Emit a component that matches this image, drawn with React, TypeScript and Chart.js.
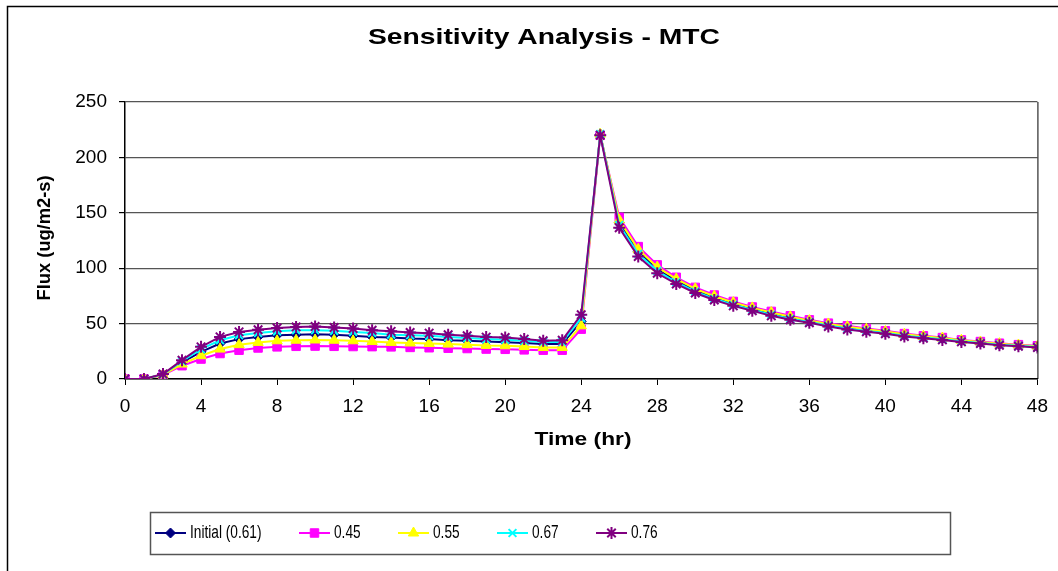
import React, { useEffect, useRef } from 'react';
import { Chart, registerables } from 'chart.js';
import { drawPoint } from 'chart.js/helpers';

Chart.register(...registerables);

const hours = [
  0, 1, 2, 3, 4, 5, 6, 7, 8, 9, 10, 11, 12, 13, 14, 15, 16, 17, 18, 19, 20, 21, 22, 23, 24,
  25, 26, 27, 28, 29, 30, 31, 32, 33, 34, 35, 36, 37, 38, 39, 40, 41, 42, 43, 44, 45, 46, 47, 48,
];

const initial061 = [
  0, 0, 4, 15, 24.5, 32, 36, 38, 39.5, 40, 40.3, 40, 39, 38, 37.4, 36.5, 36, 35, 34.5, 33.8,
  33.2, 32.5, 31.5, 31.5, 52, 221, 141, 115, 99, 88.8, 80.2, 73.5, 68, 63.3, 59, 55.2, 52, 48.9,
  46.4, 44.1, 42.2, 39.7, 37.9, 36.4, 34.4, 32.9, 31.4, 30.3, 29.2,
];
const mtc045 = [
  0, 0, 3.5, 12, 18, 23, 26, 28, 29, 29.5, 29.7, 29.5, 29.3, 29.2, 29, 28.5, 28.2, 27.8, 27.5, 27,
  26.8, 26.3, 26, 26, 45, 220, 146, 119.5, 103, 91.8, 82.7, 75.8, 70, 65, 61, 57, 53.4, 50.4,
  48, 45.6, 43.5, 41, 39, 37.4, 35.3, 33.8, 32.3, 31, 30,
];
const mtc055 = [
  0, 0, 3.8, 13.5, 21, 27, 31, 33, 34.5, 35, 35.2, 35, 34.5, 33.8, 33, 32.5, 32, 31.5, 31, 30.3,
  30, 29.3, 28.5, 28.5, 48, 221, 143.5, 117, 101, 90.3, 81.4, 74.7, 69, 64.2, 60, 56.1, 52.7, 49.7,
  47.2, 44.9, 42.8, 40.3, 38.5, 36.9, 34.9, 33.4, 31.9, 30.7, 29.6,
];
const mtc067 = [
  0, 0, 4.2, 16, 27, 35, 39.5, 41.5, 43, 44, 44, 43.5, 42.5, 41.5, 40, 39.5, 39, 38, 37, 36,
  35.5, 34.5, 33.5, 33.5, 55, 221, 139, 113, 97.5, 87.3, 78.9, 72.4, 67, 62.5, 58, 54.3, 51.4, 48.2,
  45.6, 43.4, 41.5, 39, 37.4, 35.8, 34, 32.5, 31, 29.9, 28.8,
];
const mtc076 = [
  0, 0, 4.5, 17, 29, 38, 42.5, 44.5, 46, 47, 47.4, 46.5, 45.5, 44, 43, 42, 41.4, 40, 39, 37.8,
  37.4, 36, 34.6, 35, 58, 220, 136.5, 110.5, 95.4, 85.8, 77.6, 71.3, 66, 61.6, 57, 53.4, 50.7, 47.4,
  44.7, 42.6, 40.8, 38.3, 36.8, 35.3, 33.5, 32, 30.5, 29.6, 28.4,
];

const seriesLabels = ['Initial (0.61)', '0.45', '0.55', '0.67', '0.76'];
const seriesValues = [initial061, mtc045, mtc055, mtc067, mtc076];
const seriesColors = ['#000080', '#FF00FF', '#FFFF00', '#00FFFF', '#800080'];
const seriesMarkers = ['rectRot', 'rect', 'triangle', 'crossRot', 'star'];
const seriesRadius = [5, 6, 6, 5.5, 6];

const chartTitle = 'Sensitivity Analysis - MTC';
const xTitle = 'Time (hr)';
const yTitle = 'Flux (ug/m2-s)';
const xMin = 0;
const xMax = 48;
const xStep = 4;
const yMin = 0;
const yMax = 250;
const yStep = 50;

const FONT = '"Liberation Sans", Arial, sans-serif';

function stretchedText(
  ctx: CanvasRenderingContext2D,
  text: string,
  x: number,
  y: number,
  font: string,
  targetWidth: number,
  rotate = 0,
) {
  ctx.save();
  ctx.font = font;
  ctx.textAlign = 'center';
  ctx.textBaseline = 'alphabetic';
  ctx.fillStyle = '#000';
  const w = ctx.measureText(text).width;
  const scale = targetWidth / w;
  ctx.translate(x, y);
  if (rotate) ctx.rotate(rotate);
  ctx.scale(scale, 1);
  ctx.fillText(text, 0, 0);
  ctx.restore();
}

const decorPlugin = {
  id: 'decor',
  beforeDraw(chart: any) {
    const ctx = chart.ctx as CanvasRenderingContext2D;
    ctx.save();
    ctx.fillStyle = '#fff';
    ctx.fillRect(0, 0, chart.width, chart.height);
    ctx.restore();
  },
  afterDraw(chart: any) {
    const ctx = chart.ctx as CanvasRenderingContext2D;
    const area = chart.chartArea;
    ctx.save();
    ctx.strokeStyle = '#000';
    ctx.lineWidth = 1.5;
    ctx.strokeRect(7.5, 6.5, 1300, 900);
    ctx.lineWidth = 1;
    ctx.beginPath();
    ctx.moveTo(area.right + 0.5, area.top);
    ctx.lineTo(area.right + 0.5, area.bottom);
    ctx.stroke();
    ctx.restore();

    stretchedText(ctx, chartTitle, 544, 44, `bold 22px ${FONT}`, 352);
    stretchedText(ctx, xTitle, 583, 445, `bold 19px ${FONT}`, 97);
    stretchedText(ctx, yTitle, 50, 238, `bold 18px ${FONT}`, 125, -Math.PI / 2);

    ctx.save();
    ctx.strokeStyle = '#555';
    ctx.lineWidth = 1.5;
    ctx.strokeRect(150.5, 512.5, 800, 42);
    const starts = [155, 299, 398, 497, 596];
    const cy = 533;
    chart.data.datasets.forEach((ds: any, i: number) => {
      const x0 = starts[i];
      ctx.strokeStyle = ds.borderColor;
      ctx.lineWidth = 2;
      ctx.beginPath();
      ctx.moveTo(x0, cy);
      ctx.lineTo(x0 + 31, cy);
      ctx.stroke();
      ctx.fillStyle = ds.pointBackgroundColor;
      ctx.strokeStyle = ds.pointBorderColor;
      ctx.lineWidth = ds.pointBorderWidth;
      drawPoint(
        ctx,
        { pointStyle: ds.pointStyle, radius: ds.pointRadius, rotation: 0, borderWidth: ds.pointBorderWidth },
        x0 + 15.5,
        cy,
      );
      ctx.save();
      ctx.font = `19px ${FONT}`;
      ctx.textAlign = 'left';
      ctx.textBaseline = 'middle';
      ctx.fillStyle = '#000';
      ctx.translate(x0 + 35, cy);
      ctx.scale(0.72, 1);
      ctx.fillText(ds.label, 0, 0);
      ctx.restore();
    });
    ctx.restore();
  },
};

export default function App() {
  const canvasRef = useRef<HTMLCanvasElement | null>(null);

  useEffect(() => {
    if (!canvasRef.current) return;
    const datasets = seriesLabels.map((label, i) => ({
      label,
      data: hours.map((h, j) => ({ x: h, y: seriesValues[i][j] })),
      borderColor: seriesColors[i],
      backgroundColor: seriesColors[i],
      pointBackgroundColor: seriesColors[i],
      pointBorderColor: seriesColors[i],
      pointStyle: seriesMarkers[i],
      pointRadius: seriesRadius[i],
      pointBorderWidth: seriesMarkers[i] === 'crossRot' || seriesMarkers[i] === 'star' ? 2 : 1,
      borderWidth: 2,
      tension: 0,
      fill: false,
      order: seriesLabels.length - i,
    }));

    const chart = new Chart(canvasRef.current, {
      type: 'line',
      data: { datasets },
      plugins: [decorPlugin],
      options: {
        animation: false,
        responsive: true,
        maintainAspectRatio: false,
        layout: { padding: { left: 0, right: 20, top: 102, bottom: 0 } },
        plugins: {
          legend: { display: false },
          title: { display: false },
          tooltip: { enabled: false },
        },
        scales: {
          x: {
            type: 'linear',
            min: xMin,
            max: xMax,
            afterFit: (scale: any) => {
              scale.height = 192;
            },
            ticks: {
              stepSize: xStep,
              color: '#000',
              padding: 10,
              font: { family: FONT, size: 19 },
              maxRotation: 0,
            },
            grid: {
              drawOnChartArea: false,
              drawTicks: true,
              tickLength: 6,
              color: '#000',
              tickColor: '#000',
            },
            border: { color: '#000', width: 1.5 },
          },
          y: {
            type: 'linear',
            min: yMin,
            max: yMax,
            afterFit: (scale: any) => {
              scale.width = 125;
            },
            ticks: {
              stepSize: yStep,
              color: '#000',
              padding: 12,
              font: { family: FONT, size: 19 },
            },
            grid: {
              color: '#555',
              lineWidth: 1.2,
              tickLength: 6,
              tickColor: '#000',
            },
            border: { color: '#000', width: 1.5 },
          },
        },
      },
    });
    return () => chart.destroy();
  }, []);

  return (
    <div style={{ position: 'absolute', left: 0, top: 0, width: 1058, height: 571, background: '#fff' }}>
      <canvas ref={canvasRef} />
    </div>
  );
}
